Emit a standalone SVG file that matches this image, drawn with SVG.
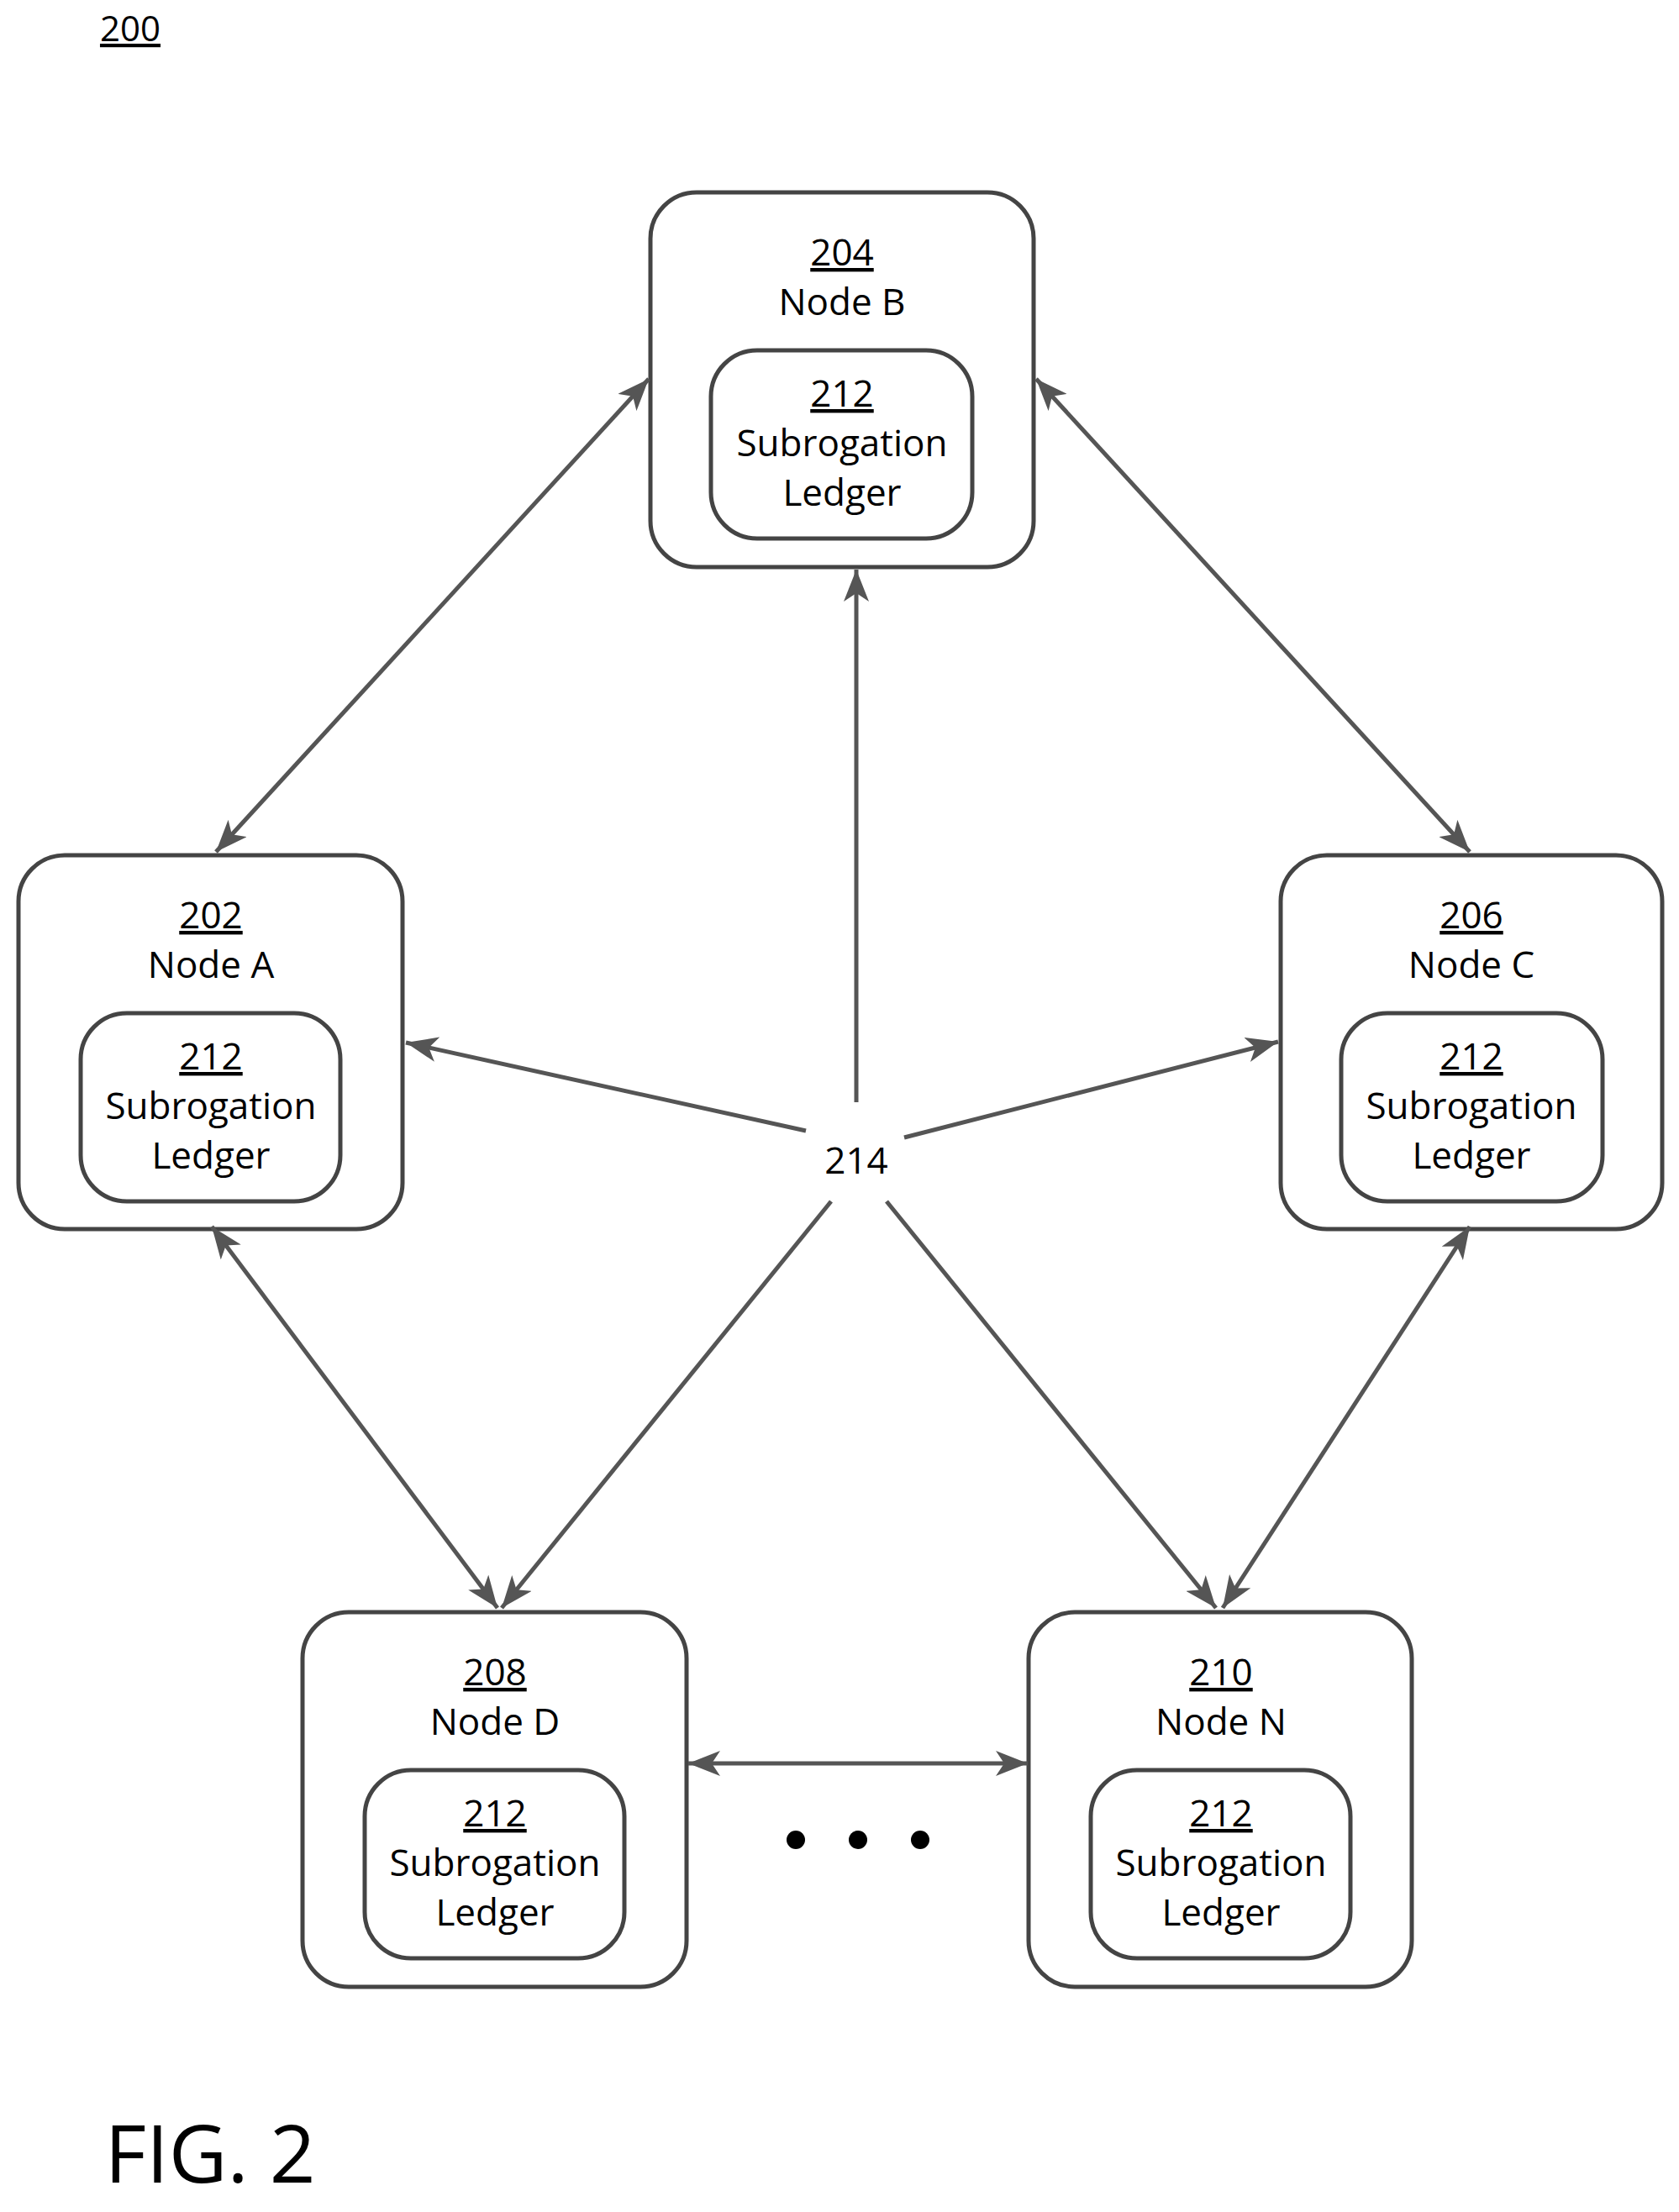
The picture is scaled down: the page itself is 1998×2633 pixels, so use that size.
<svg xmlns="http://www.w3.org/2000/svg" width="1998" height="2633" viewBox="0 0 1998 2633">
<style>
text{font-family:"Open Sans","Liberation Sans",sans-serif;font-size:44px;fill:#000;text-anchor:middle}
.u{text-decoration:underline}
.box{fill:none;stroke:#444;stroke-width:5}
.c{stroke:#555;stroke-width:5;fill:none;marker-end:url(#ah)}
.b{marker-start:url(#ahs)}
</style>
<defs>
<marker id="ah" markerUnits="userSpaceOnUse" markerWidth="40" markerHeight="30" refX="38" refY="15" orient="auto"><path d="M0,0 L38,15 L0,30 L10,15 Z" fill="#555"/></marker>
<marker id="ahs" markerUnits="userSpaceOnUse" markerWidth="40" markerHeight="30" refX="2" refY="15" orient="auto"><path d="M40,0 L2,15 L40,30 L30,15 Z" fill="#555"/></marker>
</defs>
<rect width="1998" height="2633" fill="#fff"/>
<text x="155" y="49" class="u" style="font-size:42px">200</text>
<g id="nodeB"><rect class="box" x="774" y="229" width="456" height="446" rx="55"/><rect class="box" x="846" y="417" width="311" height="224" rx="55"/>
<text x="1002" y="316" class="u">204</text><text x="1002" y="375">Node B</text><text x="1002" y="484" class="u">212</text><text x="1002" y="543">Subrogation</text><text x="1002" y="602">Ledger</text></g>
<g id="nodeA"><rect class="box" x="22" y="1018" width="457" height="445" rx="55"/><rect class="box" x="96" y="1206" width="309" height="224" rx="55"/>
<text x="251" y="1105" class="u">202</text><text x="251" y="1164">Node A</text><text x="251" y="1273" class="u">212</text><text x="251" y="1332">Subrogation</text><text x="251" y="1391">Ledger</text></g>
<g id="nodeC"><rect class="box" x="1524" y="1018" width="454" height="445" rx="55"/><rect class="box" x="1596" y="1206" width="311" height="224" rx="55"/>
<text x="1751" y="1105" class="u">206</text><text x="1751" y="1164">Node C</text><text x="1751" y="1273" class="u">212</text><text x="1751" y="1332">Subrogation</text><text x="1751" y="1391">Ledger</text></g>
<g id="nodeD"><rect class="box" x="360" y="1919" width="457" height="446" rx="55"/><rect class="box" x="434" y="2107" width="309" height="224" rx="55"/>
<text x="589" y="2006" class="u">208</text><text x="589" y="2065">Node D</text><text x="589" y="2174" class="u">212</text><text x="589" y="2233">Subrogation</text><text x="589" y="2292">Ledger</text></g>
<g id="nodeN"><rect class="box" x="1224" y="1919" width="456" height="446" rx="55"/><rect class="box" x="1298" y="2107" width="309" height="224" rx="55"/>
<text x="1453" y="2006" class="u">210</text><text x="1453" y="2065">Node N</text><text x="1453" y="2174" class="u">212</text><text x="1453" y="2233">Subrogation</text><text x="1453" y="2292">Ledger</text></g>
<g id="connectors">
<line class="c b" x1="257" y1="1014" x2="772" y2="451"/>
<line class="c b" x1="1233" y1="451" x2="1749" y2="1014"/>
<line class="c b" x1="252" y1="1460" x2="592" y2="1914"/>
<line class="c b" x1="1749" y1="1460" x2="1455" y2="1914"/>
<line class="c b" x1="819" y1="2099" x2="1223" y2="2099"/>
<line class="c" x1="1019" y1="1312" x2="1019" y2="678"/>
<line class="c" x1="959" y1="1346" x2="483" y2="1241"/>
<line class="c" x1="1076" y1="1354" x2="1521" y2="1240"/>
<line class="c" x1="989" y1="1430" x2="597" y2="1914"/>
<line class="c" x1="1055" y1="1430" x2="1447" y2="1914"/>
</g>
<text x="1019" y="1397">214</text>
<circle cx="947" cy="2190" r="11"/><circle cx="1021" cy="2190" r="11"/><circle cx="1095" cy="2190" r="11"/>
<text x="250" y="2598" style="font-size:96px">FIG. 2</text>
</svg>
